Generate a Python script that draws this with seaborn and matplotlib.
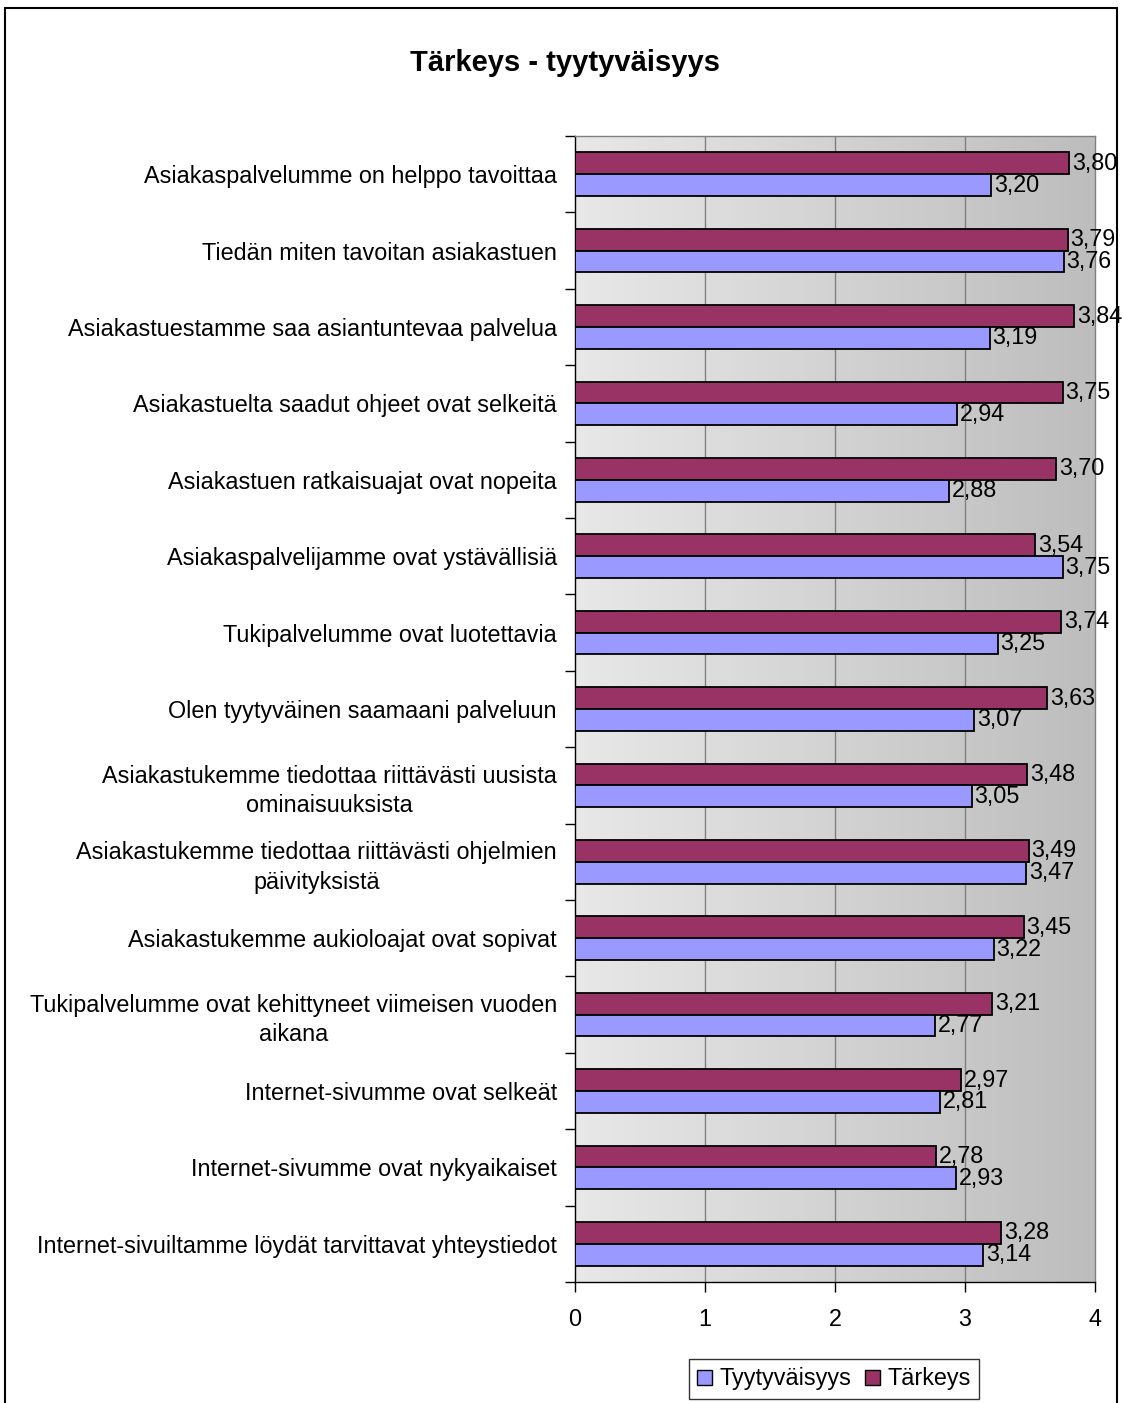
import numpy as np
import pandas as pd
import matplotlib
matplotlib.use("Agg")
import matplotlib.pyplot as plt
import seaborn as sns
from matplotlib.colors import LinearSegmentedColormap
from matplotlib.patches import Rectangle, Patch

categories = [
    "Asiakaspalvelumme on helppo tavoittaa",
    "Tiedän miten tavoitan asiakastuen",
    "Asiakastuestamme saa asiantuntevaa palvelua",
    "Asiakastuelta saadut ohjeet ovat selkeitä",
    "Asiakastuen ratkaisuajat ovat nopeita",
    "Asiakaspalvelijamme ovat ystävällisiä",
    "Tukipalvelumme ovat luotettavia",
    "Olen tyytyväinen saamaani palveluun",
    "Asiakastukemme tiedottaa riittävästi uusista\nominaisuuksista",
    "Asiakastukemme tiedottaa riittävästi ohjelmien\npäivityksistä",
    "Asiakastukemme aukioloajat ovat sopivat",
    "Tukipalvelumme ovat kehittyneet viimeisen vuoden\naikana",
    "Internet-sivumme ovat selkeät",
    "Internet-sivumme ovat nykyaikaiset",
    "Internet-sivuiltamme löydät tarvittavat yhteystiedot",
]
tarkeys = [3.80, 3.79, 3.84, 3.75, 3.70, 3.54, 3.74, 3.63, 3.48, 3.49, 3.45, 3.21, 2.97, 2.78, 3.28]
tyytyvaisyys = [3.20, 3.76, 3.19, 2.94, 2.88, 3.75, 3.25, 3.07, 3.05, 3.47, 3.22, 2.77, 2.81, 2.93, 3.14]
series_names = ["Tyytyväisyys", "Tärkeys"]
colors = {"Tyytyväisyys": "#9999FF", "Tärkeys": "#993366"}

df = pd.DataFrame({
    "kategoria": categories * 2,
    "arvo": tarkeys + tyytyvaisyys,
    "sarja": ["Tärkeys"] * len(categories) + ["Tyytyväisyys"] * len(categories),
})

sns.set_theme(style="white")
plt.rcParams["font.family"] = ["Liberation Sans", "DejaVu Sans"]
plt.rcParams["text.color"] = "black"
plt.rcParams["xtick.color"] = "black"
plt.rcParams["ytick.color"] = "black"
plt.rcParams["axes.labelcolor"] = "black"

FS = 16.8
W, H = 1122, 1403
fig = plt.figure(figsize=(W / 100, H / 100), dpi=100)
ax = fig.add_axes([575 / W, 1 - 1282 / H, (1095 - 575) / W, (1282 - 136) / H])

sns.barplot(data=df, y="kategoria", x="arvo", hue="sarja",
            hue_order=["Tärkeys", "Tyytyväisyys"], order=categories,
            palette=colors, orient="h", width=0.57, edgecolor="black",
            linewidth=1.3, saturation=1, legend=False, ax=ax, zorder=3)

# gradient background
grad = LinearSegmentedColormap.from_list("g", ["#e8e8e8", "#bdbdbd"])
ax.imshow(np.linspace(0, 1, 256).reshape(1, -1), cmap=grad, aspect="auto",
          extent=[0, 4, 14.5, -0.5], zorder=0)
ax.set_xlim(0, 4)
ax.set_ylim(14.5, -0.5)
for xv in [1, 2, 3]:
    ax.axvline(xv, color="#808080", lw=1, zorder=1)

for cont in ax.containers:
    vals = [b.get_width() for b in cont]
    ax.bar_label(cont, labels=[f"{v:.2f}".replace(".", ",") for v in vals],
                 padding=2, fontsize=FS, zorder=4)

ax.set_xlabel("")
ax.set_ylabel("")
ax.set_xticks([0, 1, 2, 3, 4])
ax.set_xticklabels(["0", "1", "2", "3", "4"], fontsize=FS)
ax.tick_params(axis="x", direction="out", length=7, width=1, color="black", pad=12, bottom=True)
ax.set_yticks(range(len(categories)))
ax.set_yticklabels(categories, fontsize=FS, multialignment="center", linespacing=1.35)
ax.tick_params(axis="y", which="major", length=0, pad=13)
ax.set_yticks(np.arange(-0.5, len(categories) + 0.5, 1), minor=True)
ax.tick_params(axis="y", which="minor", direction="out", length=7, width=1, color="black", left=True)

for s in ["left", "bottom"]:
    ax.spines[s].set_color("black")
    ax.spines[s].set_linewidth(1)
for s in ["top", "right"]:
    ax.spines[s].set_visible(True)
    ax.spines[s].set_color("#808080")
    ax.spines[s].set_linewidth(1)

fig.text(565 / W, 1 - 63 / H, "Tärkeys - tyytyväisyys", ha="center", va="center",
         fontsize=21, fontweight="bold")

handles = [Patch(facecolor=colors[n], edgecolor="black", label=n) for n in series_names]
leg = fig.legend(handles=handles, loc="center", bbox_to_anchor=(834 / W, 1 - 1379 / H),
                 ncol=2, fontsize=FS, frameon=True, fancybox=False, handlelength=0.65,
                 handleheight=0.65, handletextpad=0.3, columnspacing=0.6, borderpad=0.35,
                 borderaxespad=0)
leg.get_frame().set_edgecolor("black")
leg.get_frame().set_linewidth(1)

fig.patches.append(Rectangle((5 / W, -0.01), (1117 - 5) / W, 1.01 - 8 / H,
                             transform=fig.transFigure, fill=False, edgecolor="black",
                             lw=1.5, clip_on=False))

fig.savefig("out.png", dpi=100, facecolor="white")
